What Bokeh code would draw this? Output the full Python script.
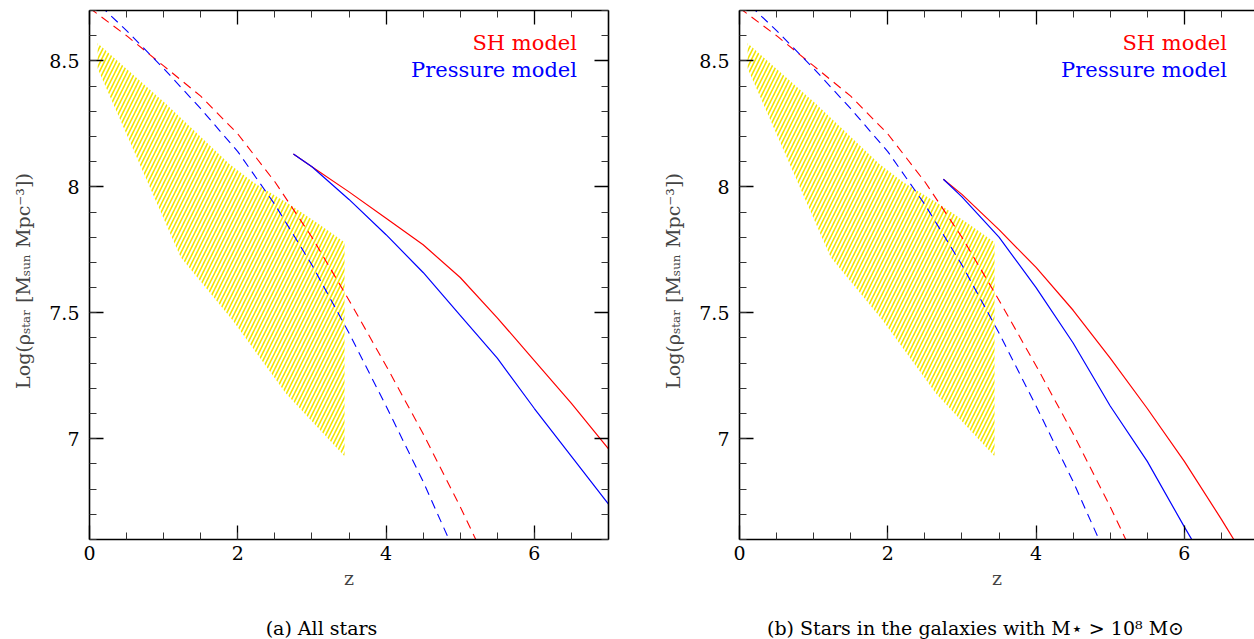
import numpy as np
from bokeh.plotting import figure
from bokeh.models import (LinearAxis, SingleIntervalTicker, FixedTicker, NumeralTickFormatter,
                          Range1d, Label)
from bokeh.layouts import row, column
from bokeh.embed import file_html
from bokeh.resources import INLINE

# ---------------- data ----------------
# dashed model curves (same in both panels)
z_dash = [0.0, 0.5, 1.0, 1.5, 2.0, 2.5, 3.0, 3.5, 4.0, 4.5, 5.0, 5.5]
sh_dash = [8.71, 8.60, 8.48, 8.36, 8.21, 8.02, 7.80, 7.55, 7.29, 7.02, 6.73, 6.42]
pr_dash = [8.76, 8.62, 8.47, 8.31, 8.14, 7.93, 7.69, 7.42, 7.13, 6.83, 6.50, 6.17]

# solid simulation curves
z_solid = [2.75, 3.0, 3.5, 4.0, 4.5, 5.0, 5.5, 6.0, 6.5, 7.0]
sh_all = [8.13, 8.08, 7.98, 7.875, 7.77, 7.64, 7.48, 7.31, 7.14, 6.96]
pr_all = [8.13, 8.08, 7.95, 7.81, 7.66, 7.49, 7.32, 7.12, 6.93, 6.74]
sh_m8 = [8.03, 7.97, 7.83, 7.68, 7.51, 7.32, 7.12, 6.91, 6.68, 6.44]
pr_m8 = [8.03, 7.96, 7.80, 7.60, 7.38, 7.13, 6.91, 6.65, 6.40, 6.15]

# observational band (hatched region)
obs_z_low = [0.11, 1.23, 1.93, 2.65, 3.44]
obs_low = [8.47, 7.72, 7.47, 7.18, 6.93]
obs_z_up = [0.11, 1.03, 1.89, 2.20, 2.70, 3.10, 3.44]
obs_up = [8.57, 8.33, 8.09, 8.02, 7.93, 7.85, 7.78]

x_ticks_interval = 2
y_ticks_interval = 0.5
legend_labels = ["SH model", "Pressure model"]
captions = ["(a) All stars",
            "(b) Stars in the galaxies with M\u22c6 > 10\u2078 M\u2299"]
y_label = "Log(\u03c1\u209b\u209c\u2090\u1d63  [M\u209b\u1d64\u2099  Mpc\u207b\u00b3])"

FONT = "DejaVu Serif"
RED = "#ff0000"
BLUE = "#0000ff"
HATCH = "#f0e400"

Y0, Y1 = 6.6, 8.7
poly_x = list(obs_z_low) + list(obs_z_up[::-1])
poly_y = list(obs_low) + list(obs_up[::-1])


def style_axis(ax):
    ax.axis_line_width = 1.6
    ax.axis_line_color = "black"
    ax.major_tick_in = 14
    ax.major_tick_out = 0
    ax.minor_tick_in = 7
    ax.minor_tick_out = 0
    ax.major_tick_line_width = 1.3
    ax.minor_tick_line_width = 1.0
    ax.major_tick_line_color = "black"
    ax.minor_tick_line_color = "#333333"
    ax.major_label_text_font = FONT
    ax.major_label_text_font_size = "19px"
    ax.major_label_text_color = "black"
    ax.axis_label_text_font = FONT
    ax.axis_label_text_font_size = "19px"
    ax.axis_label_text_font_style = "normal"


def mirror_axes(p, side, major, minor):
    # label-free mirror ticks: two axes without major ticks (so no labels)
    for i, (locs, length) in enumerate([(major, 14), (minor, 7)]):
        ax = LinearAxis(ticker=FixedTicker(ticks=[], minor_ticks=list(locs)))
        ax.major_tick_in = 0
        ax.major_tick_out = 0
        ax.minor_tick_in = length
        ax.minor_tick_out = 0
        ax.minor_tick_line_color = "black" if i == 0 else "#333333"
        ax.minor_tick_line_width = 1.3 if i == 0 else 1.0
        ax.major_label_standoff = 0
        ax.axis_label_standoff = 0
        ax.axis_line_color = "black" if i == 0 else None
        ax.axis_line_width = 1.6
        p.add_layout(ax, side)


def make_panel(sh_solid, pr_solid, frame_w, x_end, mirror_right,
               border_left, border_right):
    p = figure(frame_width=frame_w, frame_height=529,
               x_range=Range1d(0, x_end), y_range=Range1d(Y0, Y1),
               output_backend="svg", toolbar_location=None,
               min_border_left=border_left, min_border_right=border_right,
               min_border_top=10, min_border_bottom=68,
               background_fill_color="white", border_fill_color="white")
    p.outline_line_color = None
    p.grid.visible = False

    p.xaxis.ticker = SingleIntervalTicker(interval=x_ticks_interval, num_minor_ticks=4)
    p.yaxis.ticker = SingleIntervalTicker(interval=y_ticks_interval, num_minor_ticks=5)
    fmt = NumeralTickFormatter(format="0.[0]")
    p.xaxis.formatter = fmt
    p.yaxis.formatter = fmt
    for ax in p.xaxis + p.yaxis:
        style_axis(ax)
    p.xaxis.axis_label = "z"
    p.xaxis.major_label_standoff = 6
    p.xaxis.axis_label_standoff = 4
    p.yaxis.axis_label = y_label
    p.yaxis.major_label_standoff = 10
    p.yaxis.axis_label_standoff = 12
    p.yaxis.major_label_orientation = "horizontal"

    x_major = np.arange(0, x_end + 1e-9, x_ticks_interval)
    x_minor = [v for v in np.arange(0, x_end + 1e-9, x_ticks_interval / 4) if v % x_ticks_interval]
    y_major = np.arange(7.0, Y1 + 1e-9, y_ticks_interval)
    y_minor = [round(v, 2) for v in np.arange(Y0, Y1 + 1e-9, 0.1)
               if abs(round(v / y_ticks_interval) * y_ticks_interval - v) > 1e-6]
    mirror_axes(p, "above", x_major, x_minor)
    if mirror_right:
        mirror_axes(p, "right", y_major, y_minor)

    # hatched observational band
    p.patch(poly_x, poly_y, fill_color=None, line_color=None,
            hatch_pattern="/", hatch_color=HATCH, hatch_scale=8, hatch_weight=1.6)

    # dashed model curves
    p.line(z_dash, sh_dash, line_color=RED, line_width=1.1, line_dash="9 6")
    p.line(z_dash, pr_dash, line_color=BLUE, line_width=1.1, line_dash="9 6")
    # solid simulation curves
    p.line(z_solid, sh_solid, line_color=RED, line_width=1.2)
    p.line(z_solid, pr_solid, line_color=BLUE, line_width=1.2)

    # legend texts
    p.add_layout(Label(x=6.575, y=8.569, text=legend_labels[0], text_align="right",
                       text_baseline="middle", text_color=RED, text_font=FONT,
                       text_font_size="21px"))
    p.add_layout(Label(x=6.575, y=8.462, text=legend_labels[1], text_align="right",
                       text_baseline="middle", text_color=BLUE, text_font=FONT,
                       text_font_size="21px"))
    return p


def make_caption(text, width, cx):
    c = figure(width=width, height=32, x_range=Range1d(0, width), y_range=Range1d(0, 32),
               output_backend="svg", toolbar_location=None,
               x_axis_location=None, y_axis_location=None,
               min_border=0, outline_line_color=None)
    c.grid.visible = False
    c.add_layout(Label(x=cx, y=12, x_units="screen", y_units="screen", text=text,
                       text_align="center", text_baseline="middle",
                       text_font=FONT, text_font_size="19px", text_color="black"))
    return c


unit_px = 519 / 7.0
p1 = make_panel(sh_all, pr_all, 519, 7.0, True, 89, 50)
p2 = make_panel(sh_m8, pr_m8, 515, 515 / unit_px, False, 81, 0)
c1 = make_caption(captions[0], 658, 321)
c2 = make_caption(captions[1], 596, 317)

layout = column(row(p1, p2), row(c1, c2))
open("out.html", "w").write(file_html(layout, INLINE))
